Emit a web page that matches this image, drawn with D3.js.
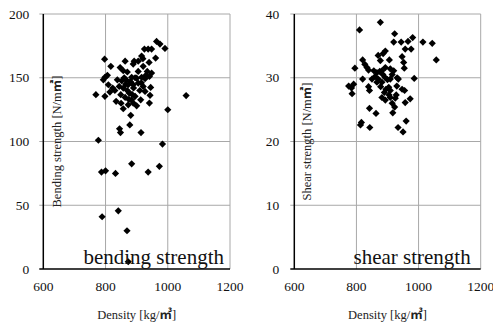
<!DOCTYPE html>
<html>
<head>
<meta charset="utf-8">
<script src="https://cdn.jsdelivr.net/npm/d3@7"></script>
<style>
body { margin: 0; background: #fff; }
text { font-family: "Liberation Serif", "Times New Roman", serif; }
tspan.unit { font-family: "Noto Sans CJK JP", sans-serif; font-weight: bold; }
</style>
</head>
<body>
<svg id="chart" width="493" height="326"></svg>
<script>
var xTicks = [600, 800, 1000, 1200];
var bendingTicks = [0, 50, 100, 150, 200];
var shearTicks = [0, 10, 20, 30, 40];

var bendingDensity = [797, 817, 863, 892, 916, 925, 937, 948, 964, 975, 991, 961, 905, 889, 921,
	847, 857, 870, 798, 806, 793, 838, 852, 866, 884, 900, 916, 927, 941, 948, 934,
	809, 823, 844, 857, 873, 889, 905, 921, 945, 769, 798, 814, 834, 849, 863, 876,
	884, 895, 913, 943, 941, 857, 873, 881, 1000, 889, 927, 1059, 983, 845, 848, 878,
	914, 777, 787, 800, 832, 884, 937, 973, 789, 841, 869, 873,
	880, 890, 895, 870, 885, 905, 910, 860, 875, 900, 865, 850, 830, 915, 930, 920, 940];
var bendingStrength = [164.6, 159, 163, 163, 167, 172.5, 172.5, 172.5, 178.5, 176.4, 173, 165.4, 163, 160.7, 159,
	158, 155.5, 154.5, 150.3, 151.9, 148.4, 148.4, 147.6, 148.4, 150.3, 149.7, 150.3, 149.2, 151, 153.7, 155,
	144.5, 141.9, 143.2, 141.9, 144.5, 144.5, 145.8, 143.2, 142.4, 136.7, 135.4, 138.8, 131.5, 136.7, 134.6, 138,
	132.7, 135.4, 132.7, 136.2, 130.1, 125.7, 128.8, 120.5, 124.9, 130.1, 139.3, 136, 98, 110, 107, 113,
	107, 101, 76, 77, 75, 82.5, 76, 80.5, 41, 45.6, 30, 5.7,
	147, 142, 150, 140, 137, 155, 140, 150, 133, 128, 145, 130, 140, 146, 152, 165, 162];

var shearDensity = [877, 810, 923, 981, 1014, 1044, 1057, 920, 944, 966, 957, 976, 893, 886, 906,
	877, 947, 952, 954, 820, 827, 834, 795, 839, 856, 866, 882, 893, 909, 920, 820,
	850, 866, 882, 893, 909, 931, 986, 775, 784, 791, 786, 839, 842, 904, 909, 928,
	947, 955, 882, 893, 909, 915, 923, 917, 957, 973, 842, 863, 816, 813, 843, 934,
	950, 960, 870, 875, 860, 885, 900, 895, 878, 890, 905, 870, 915, 935, 925, 930];
var shearStrength = [38.7, 37.5, 36.9, 36.3, 35.6, 35.4, 32.8, 35.6, 35.6, 35.7, 34.5, 34.5, 34.2, 33.8, 32.8,
	32.7, 33.3, 32.4, 31.5, 32.8, 32.1, 31.6, 31.5, 31.2, 31.1, 30.8, 31.1, 31.6, 31.4, 31.1, 29.8,
	29.8, 29.3, 29.3, 30.0, 29.8, 30.0, 29.9, 28.7, 28.4, 29.0, 27.5, 28.6, 28.0, 28.5, 28.0, 27.3,
	28.2, 28.0, 26.9, 26.5, 26.9, 26.0, 25.4, 24.5, 26.1, 26.7, 25.2, 24.4, 23.0, 22.6, 22.2, 22.2,
	21.5, 23.2, 33.5, 31.0, 30.2, 30.5, 29.7, 28.2, 28.6, 27.7, 27.3, 29.8, 30.5, 29.8, 26.8, 28.7];

var svg = d3.select("#chart");

function diamond(r) {
	return "M0," + (-r) + "L" + r + ",0L0," + r + "L" + (-r) + ",0Z";
}

// text with the unit glyph in a CJK font
function unitText(sel, before, unit, after) {
	sel.append("tspan").text(before);
	sel.append("tspan").attr("class", "unit").text(unit);
	sel.append("tspan").text(after);
}

function drawPanel(opts) {

	var x = d3.scaleLinear().domain([600, 1200]).range([opts.left, opts.right]);
	var y = d3.scaleLinear().domain([0, opts.yTicks[opts.yTicks.length - 1]]).range([269, 14]);

	var g = svg.append("g");

	// grid
	g.selectAll(".hgrid").data(opts.yTicks.slice(1)).enter().append("line") //
	.attr("x1", opts.left - 4) //
	.attr("x2", opts.right) //
	.attr("y1", function(d) { return y(d); }) //
	.attr("y2", function(d) { return y(d); }) //
	.attr("stroke", "#a8a8a8") //
	.attr("stroke-width", 1);

	g.selectAll(".vgrid").data(xTicks.slice(1)).enter().append("line") //
	.attr("x1", function(d) { return x(d); }) //
	.attr("x2", function(d) { return x(d); }) //
	.attr("y1", y(opts.yTicks[opts.yTicks.length - 1])) //
	.attr("y2", y(0)) //
	.attr("stroke", "#a8a8a8") //
	.attr("stroke-width", 1);

	// axis lines
	g.append("line").attr("x1", x(600)).attr("x2", x(600)) //
	.attr("y1", y(opts.yTicks[opts.yTicks.length - 1])).attr("y2", y(0)) //
	.attr("stroke", "#000").attr("stroke-width", 1.5);
	g.append("line").attr("x1", x(600) - 4).attr("x2", x(1200)) //
	.attr("y1", y(0)).attr("y2", y(0)) //
	.attr("stroke", "#000").attr("stroke-width", 1.5);

	// tick labels
	g.selectAll(".ylab").data(opts.yTicks).enter().append("text") //
	.attr("x", x(600) - opts.labelGap) //
	.attr("y", function(d) { return y(d); }) //
	.attr("dy", "0.35em") //
	.attr("text-anchor", "end") //
	.attr("font-size", 13.5) //
	.attr("fill", "#111") //
	.text(function(d) { return d; });

	g.selectAll(".xlab").data(xTicks).enter().append("text") //
	.attr("x", function(d) { return x(d); }) //
	.attr("y", 290.5) //
	.attr("text-anchor", "middle") //
	.attr("font-size", 13.5) //
	.attr("fill", "#111") //
	.text(function(d) { return d; });

	// titles
	g.append("text") //
	.attr("x", (opts.left + opts.right) / 2) //
	.attr("y", 319) //
	.attr("text-anchor", "middle") //
	.attr("font-size", 12.5) //
	.attr("fill", "#222") //
	.call(unitText, "Density [kg/", "㎥", "]");

	g.append("text") //
	.attr("transform", "translate(" + opts.titleX + ",141.5) rotate(-90)") //
	.attr("text-anchor", "middle") //
	.attr("font-size", 12.5) //
	.attr("fill", "#222") //
	.call(unitText, opts.yTitle, "㎡", "]");

	// points
	g.selectAll(".pt").data(opts.dens).enter().append("path") //
	.attr("d", diamond(3.6)) //
	.attr("transform", function(d, i) {
		return "translate(" + x(d) + "," + y(opts.vals[i]) + ")";
	}) //
	.attr("fill", "#000");

	g.append("text") //
	.attr("x", opts.right - opts.labelRight) //
	.attr("y", 264) //
	.attr("text-anchor", "end") //
	.attr("font-size", 21) //
	.attr("fill", "#111") //
	.text(opts.label);
}// END: drawPanel

drawPanel({
	left : 43.3,
	right : 230,
	yTicks : bendingTicks,
	dens : bendingDensity,
	vals : bendingStrength,
	yTitle : "Bending strength [N/m",
	titleX : 61,
	labelGap : 14,
	label : "bending strength",
	labelRight : 6
});

drawPanel({
	left : 294.3,
	right : 480.7,
	yTicks : shearTicks,
	dens : shearDensity,
	vals : shearStrength,
	yTitle : "Shear strength [N/m",
	titleX : 311,
	labelGap : 15,
	label : "shear strength",
	labelRight : 10
});
</script>
</body>
</html>
